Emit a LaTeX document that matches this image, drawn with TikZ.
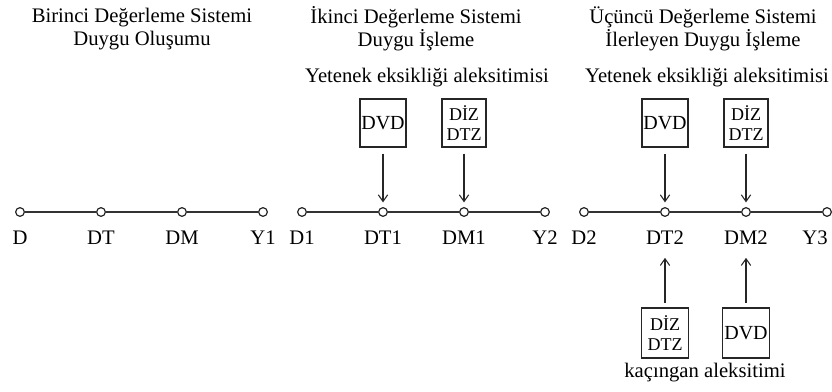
\documentclass[tikz,border=0pt]{standalone}
\usepackage{fontspec}
\setmainfont{Liberation Serif}
\usetikzlibrary{arrows.meta,positioning}
\tikzset{
dotstyle/.style={
  circle,
  line width=0.9pt,
  inner sep=0pt,
  minimum size=6.5pt,
  draw=black!85,
  fill=white,
  }
}
\tikzset{
boxstyle/.style={
  line width=0.8pt,
  inner sep=1pt,
  minimum width=33pt,
  minimum height=36pt,
  align=center,
  draw=black!85,
  font=\fontsize{13.5}{14.5}\selectfont,
  }
}
\tikzset{
bigline/.style={
  line width=0.8pt,
  draw=black!85,
  -{Straight Barb[length=5pt,width=7pt]}
  }
}
\tikzset{
axisline/.style={
  line width=1.1pt,
  draw=black!80,
  }
}
\tikzset{
labstyle/.style={
  inner sep=0pt,
  font=\fontsize{15.5}{17}\selectfont,
  }
}

\begin{document}
\begin{tikzpicture}[x=0.75pt,y=-0.75pt]
    \useasboundingbox (0,0) rectangle (832,392);
    \begin{scope}[node distance=10pt]
    % Birinci sistem
    \node[labstyle, align=center] (title1) at (142,29) {Birinci Değerleme Sistemi\\Duygu Oluşumu};
    \node[dotstyle] (d) at (20,212) {};
    \node[dotstyle] (dt) at (101,212) {};
    \node[dotstyle] (dm) at (182,212) {};
    \node[dotstyle] (y1) at (263,212) {};
    \node[labstyle, below=of d] (dlab) {D};
    \node[labstyle, below=of dt] (dtlab) {DT};
    \node[labstyle, below=of dm] (dmlab) {DM};
    \node[labstyle, below=of y1] (y1lab) {Y1};
    \draw[axisline] (d) -- (dt) -- (dm) -- (y1);

    % Ikinci sistem
    \node[labstyle, align=center] (title2) at (416,29) {İkinci Değerleme Sistemi\\Duygu İşleme};
    \node[dotstyle] (d1) at (302,212) {};
    \node[dotstyle] (dt1) at (383,212) {};
    \node[dotstyle] (dm1) at (464,212) {};
    \node[dotstyle] (y2) at (545,212) {};
    \node[labstyle, below=of d1] (d1lab) {D1};
    \node[labstyle, below=of dt1] (dt1lab) {DT1};
    \node[labstyle, below=of dm1] (dm1lab) {DM1};
    \node[labstyle, below=of y2] (y2lab) {Y2};
    \draw[axisline] (d1) -- (dt1) -- (dm1) -- (y2);
    \node[labstyle] (yet1) at (427,78) {Yetenek eksikliği aleksitimisi};
    \node[boxstyle, font=\fontsize{15}{16}\selectfont] (dvd1) at (383,123) {DVD};
    \node[boxstyle] (diz1) at (464,123) {DİZ\\DTZ};
    \draw[bigline, shorten <=4.5pt, shorten >=3.5pt] (dvd1) -- (dt1);
    \draw[bigline, shorten <=4.5pt, shorten >=3.5pt] (diz1) -- (dm1);

    % Ucuncu sistem
    \node[labstyle, align=center] (title3) at (703,29) {Üçüncü Değerleme Sistemi\\İlerleyen Duygu İşleme};
    \node[dotstyle] (d2) at (584,212) {};
    \node[dotstyle] (dt2) at (665,212) {};
    \node[dotstyle] (dm2) at (746,212) {};
    \node[dotstyle] (y3) at (827,212) {};
    \node[labstyle, below=of d2] (d2lab) {D2};
    \node[labstyle, below=of dt2] (dt2lab) {DT2};
    \node[labstyle, below=of dm2] (dm2lab) {DM2};
    \node[labstyle, below=of y3, xshift=-9pt] (y3lab) {Y3};
    \draw[axisline] (d2) -- (dt2) -- (dm2) -- (y3);
    \node[labstyle] (yet2) at (707,78) {Yetenek eksikliği aleksitimisi};
    \node[boxstyle, font=\fontsize{15}{16}\selectfont] (dvd2) at (665,123) {DVD};
    \node[boxstyle] (diz2) at (746,123) {DİZ\\DTZ};
    \draw[bigline, shorten <=4.5pt, shorten >=3.5pt] (dvd2) -- (dt2);
    \draw[bigline, shorten <=4.5pt, shorten >=3.5pt] (diz2) -- (dm2);
    \node[boxstyle, minimum width=35pt, minimum height=37.5pt] (diz3) at (665,333) {DİZ\\DTZ};
    \node[boxstyle, minimum width=35pt, minimum height=37.5pt, font=\fontsize{15}{16}\selectfont] (dvd3) at (746,333) {DVD};
    \node[labstyle] (kac) at (705,373) {kaçıngan aleksitimi};
    \draw[bigline, shorten <=3.5pt, shorten >=10pt] (diz3) -- (dt2lab);
    \draw[bigline, shorten <=3.5pt, shorten >=10pt] (dvd3) -- (dm2lab);
    \end{scope}
\end{tikzpicture}
\end{document}
